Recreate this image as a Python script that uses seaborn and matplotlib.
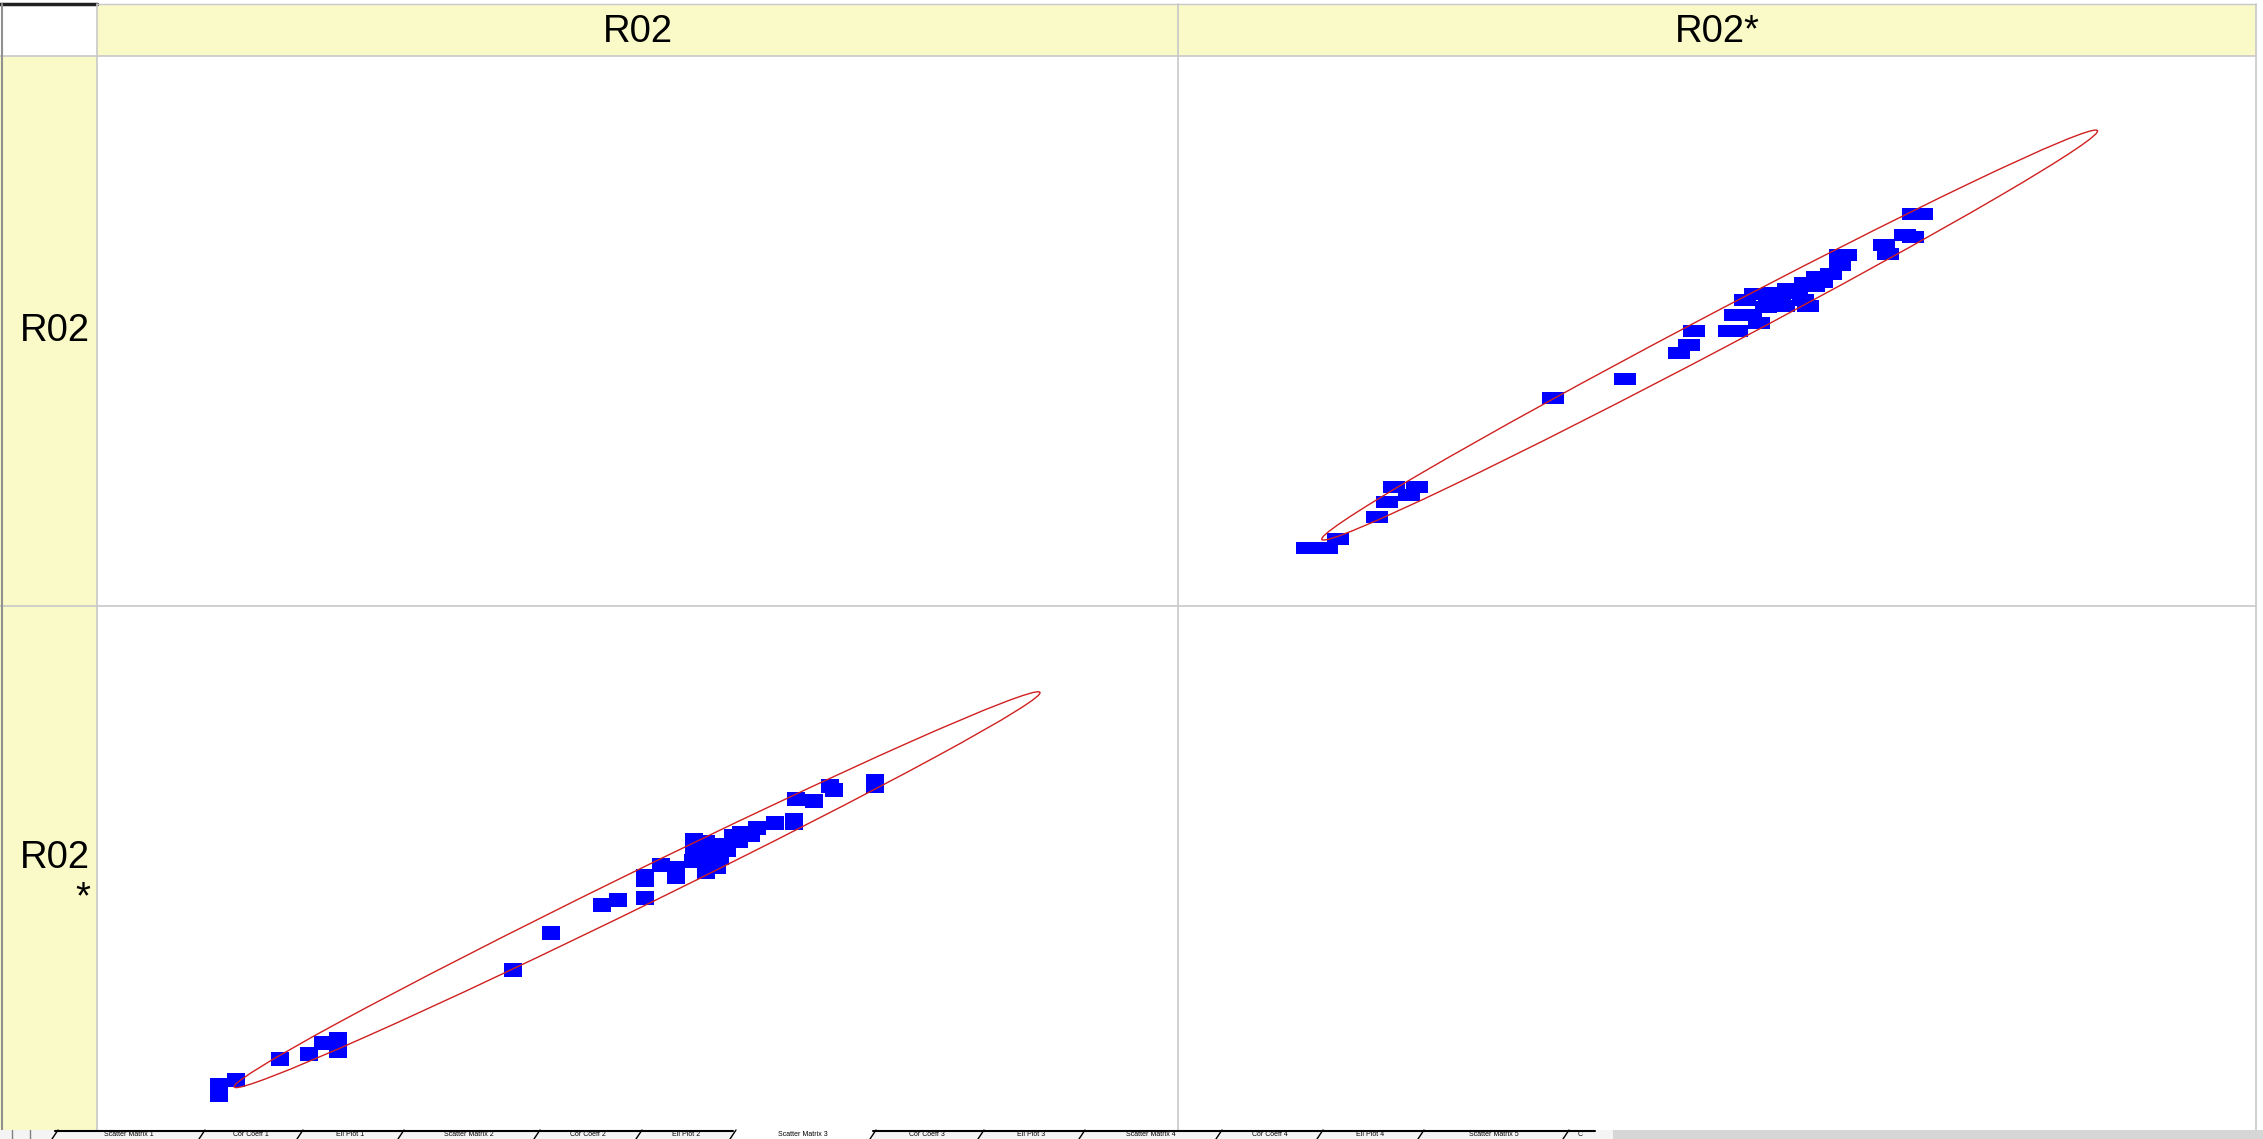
import numpy as np
import pandas as pd
import matplotlib
matplotlib.use("Agg")
import matplotlib.pyplot as plt
from matplotlib.path import Path
from matplotlib.patches import Ellipse, Rectangle
import seaborn as sns

# Header / label texts
col_labels = ["R02", "R02*"]
row_labels = ["R02", "R02\n*"]
sheet_tabs = ["Scatter Matrix 1", "Cor Coeff 1", "Ell Plot 1", "Scatter Matrix 2",
              "Cor Coeff 2", "Ell Plot 2", "Scatter Matrix 3", "Cor Coeff 3",
              "Ell Plot 3", "Scatter Matrix 4", "Cor Coeff 4", "Ell Plot 4",
              "Scatter Matrix 5", "C"]
active_tab = 6

r02_star = [12.0, 13.8, 14.8, 18.5, 19.4, 20.0, 22.2, 21.4, 34.8, 41.5,
            47.9, 47.4, 46.5, 51.1, 51.9, 51.7, 53.2, 53.9, 52.6, 53.5,
            55.1, 54.5, 56.2, 56.6, 58.0, 58.4, 58.2, 59.3, 59.7, 60.6,
            61.4, 61.4, 62.0, 65.5, 65.9, 67.4, 68.2, 68.2, 69.0,
            55.8, 57.4, 59.0, 54.8]
r02 = [10.6, 10.6, 12.2, 16.2, 18.9, 21.6, 21.6, 20.2, 37.8, 41.3,
       50.0, 47.5, 46.0, 50.0, 50.0, 52.9, 52.9, 51.5, 55.6, 56.7,
       56.9, 54.4, 54.5, 57.6, 55.6, 54.5, 58.7, 59.8, 58.9, 60.4,
       62.0, 63.8, 63.8, 65.6, 64.0, 67.5, 67.1, 71.3, 71.3,
       56.0, 56.9, 58.1, 55.6]

df = pd.DataFrame({"R02": r02, "R02*": r02_star})

sns.set_theme(style="white")
plt.rcParams["font.family"] = ["Liberation Sans", "DejaVu Sans"]

W, H = 2263, 1139
YELLOW = "#FAFAC8"
GRID = "#C8C8C8"
fig = plt.figure(figsize=(W / 100, H / 100), dpi=100)

# grid of cells drawn in pixel space
bg = fig.add_axes([0, 0, 1, 1])
bg.set_xlim(0, W)
bg.set_ylim(H, 0)
bg.axis("off")

col_edges = [97, 1178, 2256]
row_edges = [56, 606, 1156]
top = 4

bg.add_patch(Rectangle((col_edges[0], top), col_edges[-1] - col_edges[0], row_edges[0] - top,
                       color=YELLOW, lw=0))
bg.add_patch(Rectangle((0, row_edges[0]), col_edges[0], H - row_edges[0], color=YELLOW, lw=0))
bg.plot([0, col_edges[0]], [3.5, 3.5], color="#202020", lw=2.5)
bg.plot([col_edges[0], col_edges[-1]], [top, top], color=GRID, lw=1)
for x in col_edges:
    bg.plot([x, x], [top, H], color=GRID, lw=1.2)
for y in row_edges[:-1]:
    bg.plot([0, col_edges[-1]], [y, y], color=GRID, lw=1.2)
bg.plot([2, 2], [top, H], color="#909090", lw=1.5)

for i, lab in enumerate(col_labels):
    bg.text((col_edges[i] + col_edges[i + 1]) / 2, (top + row_edges[0]) / 2 + 2, lab,
            ha="center", va="center", fontsize=27.5, color="black")
bg.text(90, (row_edges[0] + row_edges[1]) / 2, row_labels[0],
        ha="right", va="center", fontsize=27.5, color="black")
bg.text(90, 878, row_labels[1], ha="right", va="center", fontsize=27.5, color="black",
        linespacing=1.15, multialignment="right")

# sheet tab strip at the bottom
tab_y = 1130
bg.add_patch(Rectangle((0, tab_y), W, H - tab_y, color="#F4F4F4", lw=0, zorder=5))
bg.add_patch(Rectangle((1613, tab_y), W - 1613, H - tab_y, color="#D6D6D6", lw=0, zorder=5))
tab_edges = [55, 202, 300, 401, 537, 639, 733, 873, 981, 1082, 1219, 1320, 1421, 1566, 1595]
for i, lab in enumerate(sheet_tabs):
    x0, x1 = tab_edges[i], tab_edges[i + 1]
    fc = "white" if i == active_tab else "#F4F4F4"
    bg.add_patch(Rectangle((x0, tab_y), x1 - x0, H - tab_y, color=fc, lw=0, zorder=6))
    if i != active_tab:
        bg.plot([x0, x1], [tab_y + 0.5, tab_y + 0.5], color="black", lw=1.5, zorder=7)
    bg.plot([x0 - 3, x0 + 3], [H, tab_y], color="black", lw=1, zorder=7)
    bg.text((x0 + x1) / 2, tab_y + 5, lab, ha="center", va="center", fontsize=5,
            color="black", zorder=8)
bg.plot([12, 12], [tab_y, H], color="#808080", lw=1, zorder=7)
bg.plot([30, 30], [tab_y, H], color="#808080", lw=1, zorder=7)


def add_panel(x0, y0, w, h):
    ax = fig.add_axes([x0 / W, 1 - (y0 + h) / H, w / W, h / H])
    ax.patch.set_alpha(0)
    ax.axis("off")
    return ax


def rect_marker(w, h):
    return Path([(-w, -h), (w, -h), (w, h), (-w, h), (-w, -h)],
                [Path.MOVETO, Path.LINETO, Path.LINETO, Path.LINETO, Path.CLOSEPOLY])


def conf_ellipse(x, y, k, **kw):
    cov = np.cov(x, y)
    vals, vecs = np.linalg.eigh(cov)
    order = vals.argsort()[::-1]
    vals, vecs = vals[order], vecs[:, order]
    angle = np.degrees(np.arctan2(vecs[1, 0], vecs[0, 0]))
    return Ellipse((np.mean(x), np.mean(y)), 2 * k * np.sqrt(vals[0]), 2 * k * np.sqrt(vals[1]),
                   angle=angle, fill=False, **kw)


K = np.sqrt(4.605)  # 90% ellipse

# top-right: x = R02*, y = R02
ax_tr = add_panel(1178, 56, 1078, 550)
sns.scatterplot(data=df, x="R02*", y="R02", ax=ax_tr, marker=rect_marker(23, 12),
                s=(23 * 0.72) ** 2, color="#0000FF", linewidth=0, legend=False)
ax_tr.add_patch(conf_ellipse(df["R02*"], df["R02"], K, color="#D02020", lw=1.0))
ax_tr.set_xlim(0, 100)
ax_tr.set_ylim(0, 100)
ax_tr.axis("off")

# bottom-left: x = R02, y = R02* (row runs below the visible area)
ax_bl = add_panel(97, 606, 1081, 550)
sns.scatterplot(data=df, x="R02", y="R02*", ax=ax_bl, marker=rect_marker(18, 14),
                s=(18 * 0.72) ** 2, color="#0000FF", linewidth=0, legend=False)
ax_bl.add_patch(conf_ellipse(df["R02"], df["R02*"], K, color="#D02020", lw=1.0))
ax_bl.set_xlim(-0.7, 99.3)
ax_bl.set_ylim(0.9, 100.9)
ax_bl.axis("off")

bg.set_zorder(0)
ax_tr.set_zorder(2)
ax_bl.set_zorder(1)

fig.savefig("out.png", dpi=100)
